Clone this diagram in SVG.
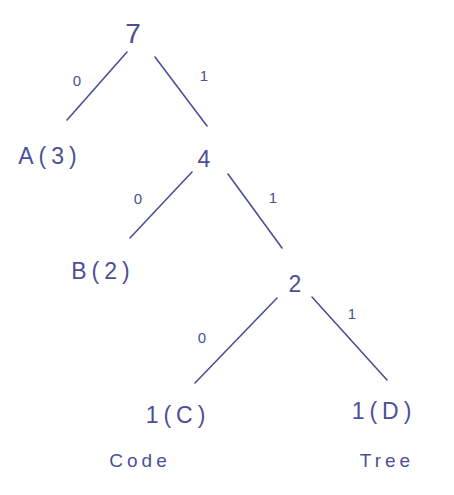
<svg xmlns="http://www.w3.org/2000/svg" width="454" height="495" viewBox="0 0 454 495">
<style>
.t{font-family:"Liberation Sans","DejaVu Sans",sans-serif;fill:#4d4f96;text-anchor:middle}
.n{font-size:23px;letter-spacing:5px}
.b{font-size:15px}
.w{font-size:19px;letter-spacing:4px}
.e{stroke:#4d4f96;stroke-width:1.6;fill:none;stroke-linecap:round}
</style>
<rect width="454" height="495" fill="#ffffff"/>
<g id="connectors">
<line class="e" x1="127" y1="52" x2="67" y2="120"/>
<line class="e" x1="155" y1="57" x2="207" y2="126"/>
<line class="e" x1="192" y1="172" x2="130" y2="238"/>
<line class="e" x1="228" y1="174" x2="282" y2="248"/>
<line class="e" x1="277" y1="298" x2="195" y2="383"/>
<line class="e" x1="312" y1="297" x2="387" y2="380"/>
<text class="t b" x="77" y="86">0</text>
<text class="t b" x="204" y="81">1</text>
<text class="t b" x="138" y="204">0</text>
<text class="t b" x="273" y="203">1</text>
<text class="t b" x="202" y="343">0</text>
<text class="t b" x="352" y="319">1</text>
</g>
<g id="n7"><text class="t" x="133" y="43" font-size="28">7</text></g>
<g id="nA"><text class="t n" x="50" y="164">A(3)</text></g>
<g id="n4"><text class="t" x="204" y="167" font-size="23">4</text></g>
<g id="nB"><text class="t n" x="103" y="279">B(2)</text></g>
<g id="n2"><text class="t" x="295" y="292" font-size="23">2</text></g>
<g id="nC"><text class="t n" x="178" y="423">1(C)</text></g>
<g id="nD"><text class="t n" x="384" y="419">1(D)</text></g>
<g id="lCode"><text class="t w" x="140" y="467">Code</text></g>
<g id="lTree"><text class="t w" x="387" y="467">Tree</text></g>
</svg>
